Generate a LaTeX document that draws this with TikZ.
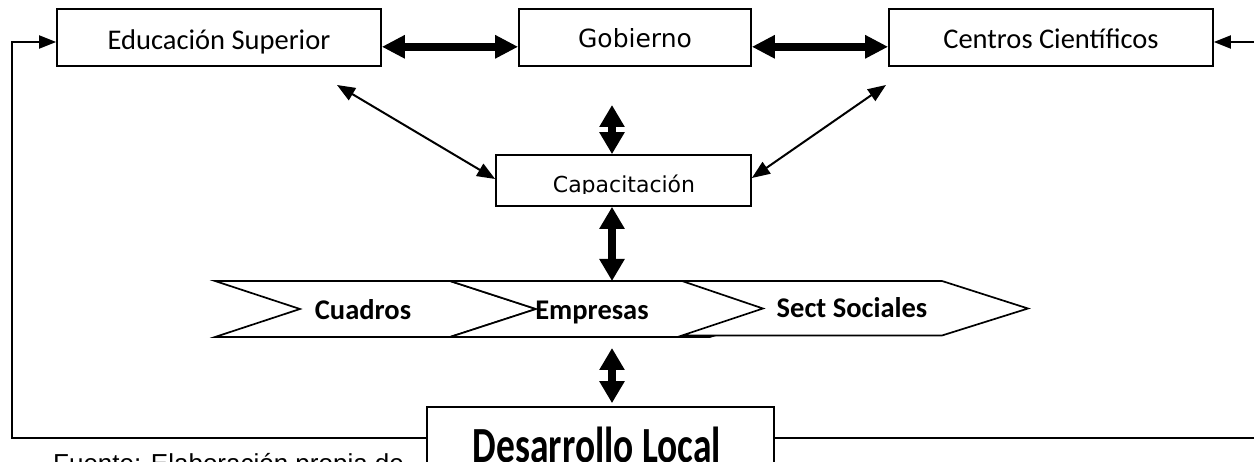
\documentclass[tikz,border=0pt]{standalone}
\usepackage{fontspec}
\setmainfont{Carlito}
\newfontfamily\djv{DejaVu Sans}
\newfontfamily\lib{Liberation Sans}
\usetikzlibrary{arrows.meta}
\tikzset{
  box/.style={draw, line width=1.7pt, fill=white, inner sep=0pt, minimum height=57pt},
  chev/.style={draw, line width=1.7pt, fill=white, line join=miter},
  thinarr/.style={line width=2pt, -{Triangle[length=17pt,width=13pt]}},
  thinboth/.style={line width=2pt, {Triangle[length=18pt,width=14pt]}-{Triangle[length=18pt,width=14pt]}},
  fatarr/.style={line width=8pt, {Triangle[length=23pt,width=22pt]}-{Triangle[length=23pt,width=22pt]}},
  vfat/.style={line width=8pt, {Triangle[length=22pt,width=24pt]}-{Triangle[length=22pt,width=24pt]}},
  boldlbl/.style={font=\bfseries\fontsize{28.5}{30}\selectfont, inner sep=0pt, anchor=base}
}
\begin{document}
\begin{tikzpicture}[x=1pt,y=-1pt]
\clip (0,0) rectangle (1254,462);
\fill[white] (0,0) rectangle (1254,462);

% top boxes
\node[box, minimum width=324pt, text height=25pt, text depth=0pt,
      font=\fontsize{28.5}{30}\selectfont] (edu) at (219,37.5) {Educación Superior};
\node[box, minimum width=232pt, text height=21pt, text depth=0pt,
      font=\djv\fontsize{25}{27}\selectfont] (gob) at (635,37.5) {Gobierno};
\node[box, minimum width=324pt, text height=23pt, text depth=0pt,
      font=\fontsize{28.5}{30}\selectfont] (cen) at (1051,37.5) {Centros Científicos};

% capacitacion
\node[box, minimum width=255pt, minimum height=51pt] (cap) at (623.5,180.5) {};
\begin{scope}
  \clip (490,150) rectangle (760,194);
  \node[font=\djv\fontsize{22}{24}\selectfont, inner sep=0pt, anchor=base] (captext) at (624,193) {Capacitación};
\end{scope}

% chevrons
\draw[chev] (215,281) -- (450,281) -- (536,309) -- (450,337) -- (215,337) -- (300,309) -- cycle;
\draw[chev] (450,281) -- (710,281) -- (796,309) -- (710,337) -- (450,337) -- (536,309) -- cycle;
\draw[chev] (682,281) -- (942,281) -- (1028,308.5) -- (942,335.5) -- (682,335.5) -- (763,308.5) -- cycle;
\node[boldlbl] (cuadros) at (363,320) {Cuadros};
\node[boldlbl] (empresas) at (592,320) {Empresas};
\node[boldlbl] (sect) at (852,318) {Sect Sociales};
\coordinate (empT) at (612,281);
\coordinate (empB) at (612,348);

% source line (partly hidden, as in the reference)
\node[font=\lib\fontsize{26}{28}\selectfont, inner sep=0pt, anchor=base west] (src) at (53,472) {Fuente: Elaboración propia de};

% feedback lines
\coordinate (lc) at (12,42);
\coordinate (rc) at (1258,42);

% desarrollo local
\node[box, minimum width=347pt, minimum height=73pt] (des) at (600.5,443.5) {};
\node[font=\bfseries\fontsize{37.5}{40}\selectfont, inner sep=0pt, anchor=base] (destext) at (597,463) {\scalebox{1}[1.35]{Desarrollo Local}};

\draw[thinarr] ([yshift=5.5pt]des.west) -| (lc) -- ([yshift=-4.5pt]edu.west);
\draw[thinarr] ([yshift=5.5pt]des.east) -| (rc) -- ([yshift=-4.5pt]cen.east);

% thick horizontal arrows
\draw[fatarr] ([yshift=-9.3pt]edu.east) -- ([yshift=-9.3pt]gob.west);
\draw[fatarr] ([yshift=-9.3pt]gob.east) -- ([yshift=-9.3pt]cen.west);

% diagonals
\coordinate (dl) at (337,85);
\coordinate (dr) at (886,85);
\draw[thinboth] (dl) -- ([yshift=1.5pt]cap.west);
\draw[thinboth] (dr) -- ([yshift=2.5pt]cap.east);

% vertical arrows
\coordinate (gc) at (612,105);
\draw[vfat] (gc) -- (cap.north -| gc);
\draw[vfat] (cap.south -| gc) -- (empT);
\draw[vfat, shorten >=3pt] (empB) -- (des.north -| gc);
\end{tikzpicture}
\end{document}
